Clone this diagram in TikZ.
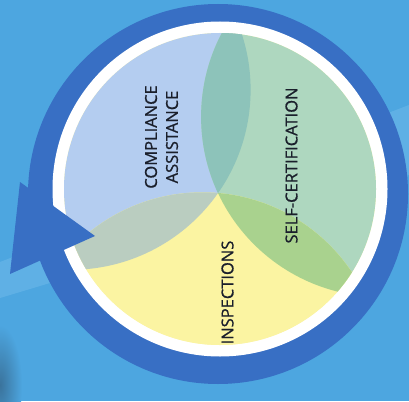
\documentclass[tikz,border=0pt]{standalone}
\usepackage{fontspec}
\setmainfont{Open Sans}
\definecolor{bg}{HTML}{4DA6E0}
\definecolor{bglight}{HTML}{6FBAEA}
\definecolor{bgdark}{HTML}{3A739C}
\definecolor{ringblue}{HTML}{386FC4}
\definecolor{blueC}{HTML}{B4CDF0}
\definecolor{greenC}{HTML}{AED7BF}
\definecolor{yellowC}{HTML}{FBF4A2}
\definecolor{tealC}{HTML}{8DC3BA}
\definecolor{limeC}{HTML}{A9D28E}
\definecolor{grayC}{HTML}{BACDC0}
\definecolor{txt}{HTML}{1A1F2B}
\tikzset{
  lbl/.style={rotate=90, align=center, text=txt, inner sep=0pt,
    font=\fontsize{16.5}{21}\selectfont\addfontfeature{FakeBold=0.9}},
}
\begin{document}
\begin{tikzpicture}[x=1pt,y=-1pt]
\useasboundingbox (0,0) rectangle (409,401);
\fill[bg] (0,0) rectangle (409,401);
\fill[bglight, opacity=0.55] (0,262) -- (0,298) -- (409,175) -- (409,105) -- cycle;
\shade[inner color=bgdark, outer color=bg] (0,385) ellipse[x radius=22pt, y radius=60pt];
% ring
\coordinate (ringc) at (218,194);
\coordinate (diskc) at (220,189);
\fill[ringblue] (ringc) circle[radius=190pt];
\fill[white] (diskc) circle[radius=167.5pt];
% petals
\coordinate (Cb) at (70.6,89.8);
\coordinate (Cg) at (381.1,116.9);
\coordinate (Cy) at (202.3,372.3);
\def\R{180pt}
\begin{scope}
  \clip (diskc) circle[radius=156pt];
  \fill[yellowC] (diskc) circle[radius=157pt];
  \fill[blueC] (Cb) circle[radius=\R];
  \fill[greenC] (Cg) circle[radius=\R];
  \fill[yellowC] (Cy) circle[radius=\R];
  \begin{scope}\clip (Cb) circle[radius=\R]; \fill[tealC] (Cg) circle[radius=\R]; \end{scope}
  \begin{scope}\clip (Cb) circle[radius=\R]; \fill[grayC] (Cy) circle[radius=\R]; \end{scope}
  \begin{scope}\clip (Cg) circle[radius=\R]; \fill[limeC] (Cy) circle[radius=\R]; \end{scope}
\end{scope}
% arrow head
\coordinate (a1) at (20,182);
\coordinate (a2) at (95,236);
\coordinate (a3) at (10,274);
\fill[ringblue] (a1) -- (a2) -- (a3) -- cycle;
% labels
\node[lbl] (ca) at (161.5,137) {COMPLIANCE\\ASSISTANCE};
\node[lbl] (sc) at (291.5,165.5) {SELF-CERTIFICATION};
\node[lbl] (in) at (227.5,292.5) {INSPECTIONS};
\end{tikzpicture}
\end{document}
